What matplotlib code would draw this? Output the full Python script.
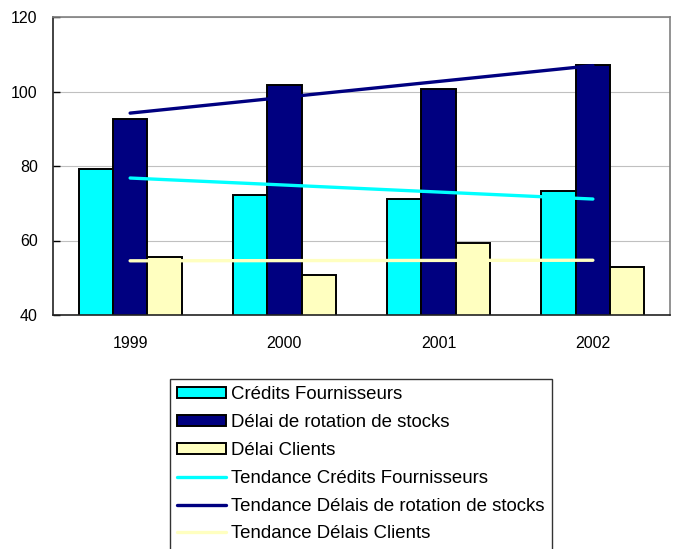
import numpy as np
import matplotlib.pyplot as plt

plt.rcParams['font.family'] = ['Liberation Sans', 'DejaVu Sans']

# Données par année
annees = ["1999", "2000", "2001", "2002"]
credits_fournisseurs = [79.2, 72.2, 71.1, 73.3]
delai_stocks = [92.7, 101.7, 100.7, 107.2]
delai_clients = [55.6, 50.7, 59.3, 52.9]

couleurs = {
    "fournisseurs": "#00FFFF",
    "stocks": "#000080",
    "clients": "#FFFFC0",
}

fig = plt.figure(figsize=(6.76, 5.49), dpi=100)
ax = fig.add_axes([53 / 676, 1 - 315 / 549, 617 / 676, 298 / 549])

x = np.arange(len(annees))
w = 0.223

b1 = ax.bar(x - w, credits_fournisseurs, w, color=couleurs["fournisseurs"],
            edgecolor="black", linewidth=1.4, label="Crédits Fournisseurs", zorder=2)
b2 = ax.bar(x, delai_stocks, w, color=couleurs["stocks"],
            edgecolor="black", linewidth=1.4, label="Délai de rotation de stocks", zorder=2)
b3 = ax.bar(x + w, delai_clients, w, color=couleurs["clients"],
            edgecolor="black", linewidth=1.4, label="Délai Clients", zorder=2)

# Courbes de tendance (régression linéaire)
series = [
    (credits_fournisseurs, couleurs["fournisseurs"], "Tendance Crédits Fournisseurs"),
    (delai_stocks, couleurs["stocks"], "Tendance Délais de rotation de stocks"),
    (delai_clients, couleurs["clients"], "Tendance Délais Clients"),
]
lignes = []
for vals, col, lab in series:
    pente, orig = np.polyfit(x, vals, 1)
    l, = ax.plot(x, pente * x + orig, color=col, linewidth=2.4, label=lab,
                 solid_capstyle="round", zorder=3)
    lignes.append(l)

ax.set_xlim(-0.5, 3.5)
ax.set_ylim(40, 120)
ax.set_yticks([40, 60, 80, 100, 120])
ax.set_xticks(x)
ax.set_xticklabels(annees)
ax.tick_params(axis="y", direction="in", length=5, width=1, pad=11, labelsize=11.5)
ax.tick_params(axis="x", length=0, pad=15, labelsize=11.5)
ax.yaxis.grid(True, color="#C0C0C0", linewidth=0.8, zorder=0)
ax.set_axisbelow(True)

for s in ["top", "right"]:
    ax.spines[s].set_color("#808080")
    ax.spines[s].set_linewidth(1.2)
for s in ["left", "bottom"]:
    ax.spines[s].set_color("#222222")
    ax.spines[s].set_linewidth(1.2)

leg = fig.legend(handles=[b1, b2, b3] + lignes, loc="upper left",
                 bbox_to_anchor=(170 / 676, 1 - 379 / 549),
                 fancybox=False, edgecolor="#333333", framealpha=1,
                 fontsize=13.4, handlelength=2.6, handleheight=0.55,
                 handletextpad=0.3, labelspacing=0.58, borderpad=0.4,
                 borderaxespad=0)
leg.get_frame().set_linewidth(1.0)

fig.savefig("out.png", dpi=100)
